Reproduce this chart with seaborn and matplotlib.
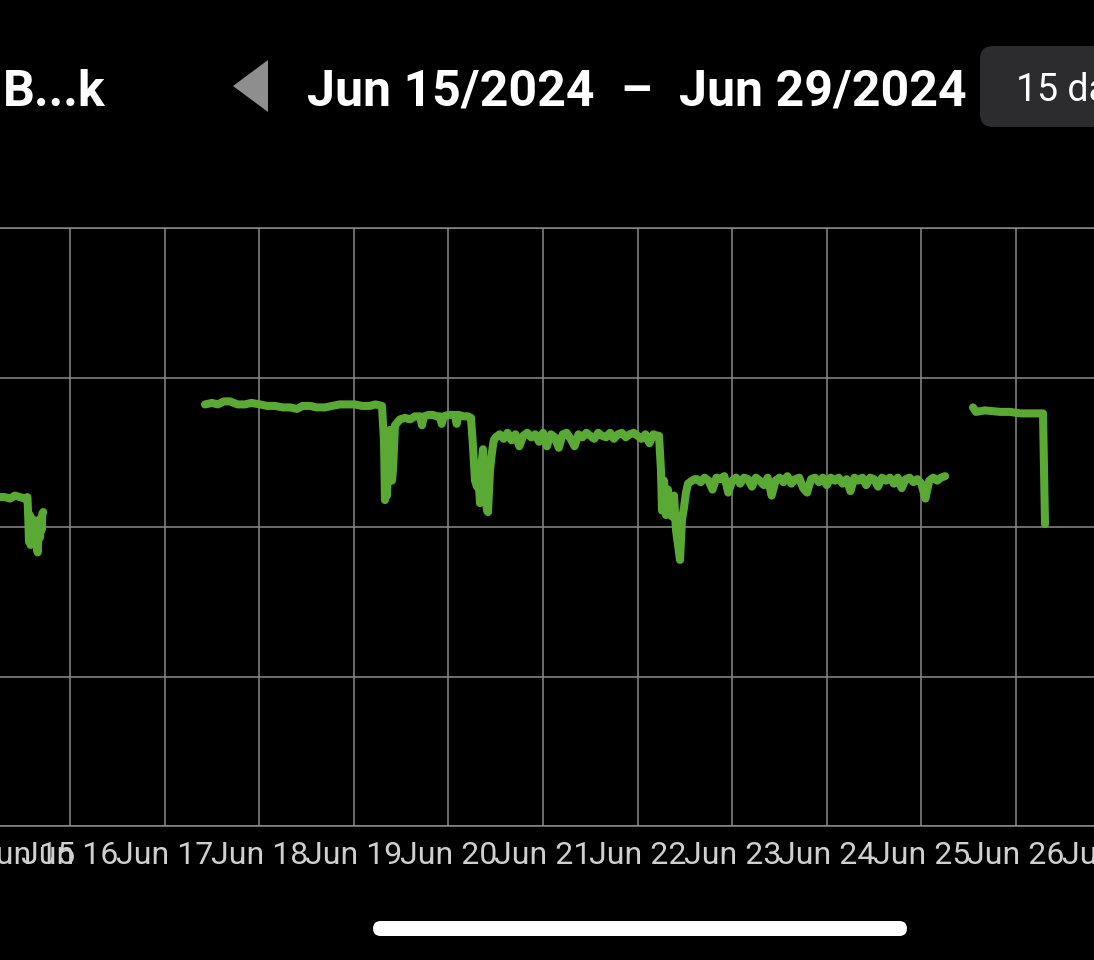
import numpy as np
import pandas as pd
import matplotlib
matplotlib.use("Agg")
import matplotlib.pyplot as plt
from matplotlib.patches import FancyBboxPatch, Polygon
import seaborn as sns

# ---------------- data (hours since Jun 15 00:00, value) ----------------
seg1_hours = [3.0, 6.2, 7.5, 8.8, 10.0, 11.3, 12.5, 13.2, 13.4, 13.6, 13.8, 14.0, 14.2,
              14.4, 14.6, 14.8, 15.0, 15.2, 15.4, 15.6, 15.8, 16.0, 16.2, 16.4, 16.6, 16.8,
              17.0, 17.2]
seg1_values = [2.20, 2.20, 2.20, 2.19, 2.21, 2.20, 2.19, 2.20, 2.07, 1.90, 2.08, 1.88, 2.06,
               1.91, 2.05, 1.89, 2.02, 1.90, 2.04, 1.86, 1.83, 1.97, 2.05, 1.93, 2.06, 1.98,
               2.09, 2.10]

seg2_hours = [58.25, 60.0, 61.5, 63.0, 64.6, 66.5, 68.4, 70.0, 72.2, 74.0, 76.0, 78.0, 79.8,
              81.6, 83.0, 84.9, 86.5, 88.7, 90.5, 92.5, 94.5, 96.3, 98.0, 100.1, 101.5, 103.15,
              103.66, 103.91, 104.17, 104.42, 104.93, 105.18, 105.69, 105.94, 106.45, 107.72,
              109.0, 110.26, 111.5, 112.80, 113.3, 113.8, 115.0, 116.09, 117.0, 117.87, 118.3,
              118.8, 120.0, 121.67, 122.1, 122.6, 123.8, 124.97, 125.73, 126.24, 126.75,
              127.25, 127.51, 128.02, 128.52, 128.78, 129.29, 129.79, 130.05, 130.55, 131.06,
              131.5,
              132, 133, 134, 135, 136, 137, 138, 139, 140, 141, 142, 143, 144, 145, 146, 147,
              148, 149, 150, 151, 152, 153, 154, 155, 156, 157, 158, 159, 160, 161, 162, 163,
              164, 165, 166, 167, 168, 169, 170, 171, 172, 173,
              173.43, 173.93, 174.19, 174.70, 175.20, 175.71, 176.22, 176.73, 177.24, 177.74,
              178.25, 178.76, 179.26, 179.77, 180.28, 180.79, 181.80, 182.5,
              183, 184, 185, 186, 187, 188, 189, 190, 191, 192, 193, 194, 195, 196, 197, 198,
              199, 200, 201, 202, 203, 204, 205, 206, 207, 208, 209, 210, 211, 212, 213, 214,
              215, 216, 217, 218, 219, 220, 221, 222, 223, 224, 225, 226, 227, 228, 229, 230,
              231, 232, 233, 234, 235, 236, 237, 238, 239, 240, 241, 242, 243, 244, 245, 246]
seg2_values = [2.82, 2.83, 2.82, 2.84, 2.84, 2.82, 2.82, 2.83, 2.82, 2.81, 2.81, 2.80, 2.80,
               2.79, 2.81, 2.81, 2.80, 2.80, 2.81, 2.82, 2.82, 2.82, 2.81, 2.81, 2.82, 2.81,
               2.58, 2.18, 2.45, 2.21, 2.58, 2.65, 2.31, 2.38, 2.68, 2.72,
               2.73, 2.72, 2.74, 2.74, 2.68, 2.74, 2.75, 2.75, 2.74, 2.74, 2.69,
               2.74, 2.75, 2.75, 2.69, 2.75, 2.74, 2.74, 2.73, 2.54, 2.31,
               2.27, 2.38, 2.16, 2.45, 2.52, 2.25, 2.11, 2.10, 2.38, 2.50,
               2.58,
               2.60, 2.62, 2.59, 2.63, 2.58, 2.62, 2.54, 2.61, 2.63, 2.60, 2.62, 2.57, 2.63, 2.54,
               2.62, 2.60, 2.53, 2.62, 2.63, 2.59, 2.54, 2.62, 2.60, 2.63, 2.61, 2.59, 2.63, 2.61,
               2.60, 2.63, 2.59, 2.62, 2.63, 2.60, 2.62, 2.63, 2.61, 2.59, 2.62, 2.56, 2.62, 2.61,
               2.61, 2.38, 2.11, 2.31, 2.08, 2.25, 2.09, 2.07, 2.21, 1.98,
               1.88, 1.78, 2.05, 2.13, 2.23, 2.29, 2.31, 2.32,
               2.32, 2.30, 2.33, 2.31, 2.25, 2.33, 2.32, 2.34, 2.23, 2.31, 2.33, 2.29, 2.33, 2.32,
               2.27, 2.33, 2.31, 2.28, 2.33, 2.21, 2.31, 2.33, 2.30, 2.34, 2.29, 2.32, 2.33, 2.26,
               2.23, 2.32, 2.33, 2.30, 2.33, 2.28, 2.33, 2.31, 2.33, 2.29, 2.32, 2.24, 2.33, 2.31,
               2.33, 2.28, 2.33, 2.32, 2.27, 2.33, 2.31, 2.33, 2.29, 2.33, 2.26, 2.32, 2.33, 2.30,
               2.32, 2.29, 2.19, 2.31, 2.33, 2.31, 2.33, 2.34]

seg3_hours = [253.09, 253.85, 256.13, 259.94, 262.48, 265.02, 268.82, 270.85, 271.36]
seg3_values = [2.80, 2.77, 2.78, 2.77, 2.77, 2.76, 2.76, 2.76, 2.02]

tick_days = [16, 17, 18, 19, 20, 21, 22, 23, 24, 25, 26, 27]
tick_labels = ["Jun 16", "Jun 17", "Jun 18", "Jun 19", "Jun 20", "Jun 21",
               "Jun 22", "Jun 23", "Jun 24", "Jun 25", "Jun 26", "Jun 27"]
first_label = "Jun 15"
first_label_hour = 13.1
y_grid = [0, 1, 2, 3, 4]

title_left = "B...k"
range_start = "Jun 15/2024"
range_end = "Jun 29/2024"
range_button = "15 days"

# ---------------- build frame ----------------
start = pd.Timestamp("2024-06-15")
frames = []
for i, (hs, vs) in enumerate([(seg1_hours, seg1_values),
                              (seg2_hours, seg2_values),
                              (seg3_hours, seg3_values)]):
    frames.append(pd.DataFrame({
        "time": start + pd.to_timedelta(hs, unit="h"),
        "value": vs,
        "segment": i,
    }))
df = pd.concat(frames, ignore_index=True)

GREEN = "#5aa935"
GRID = "#8a8a8a"
TICKC = "#cfcfcf"
W, H = 1094, 960
EXT = 1.06  # axes run past the right edge of the screen

sns.set_theme(style="dark")
plt.rcParams["font.family"] = ["Roboto", "DejaVu Sans"]

fig = plt.figure(figsize=(W / 100, H / 100), dpi=100, facecolor="black")
ax = fig.add_axes([0, (H - 826) / H, EXT, (826 - 228) / H])
ax.set_facecolor("black")

sns.lineplot(data=df, x="time", y="value", units="segment", estimator=None,
             color=GREEN, linewidth=5.8, ax=ax, legend=False,
             solid_capstyle="round", solid_joinstyle="round", zorder=3)

ax.set_yticks(y_grid)
ax.set_yticklabels([])
ax.set_xticks([start + pd.Timedelta(days=d - 15) for d in tick_days])
ax.set_xticklabels(tick_labels)
ax.set_xticks([start + pd.Timedelta(hours=first_label_hour)], minor=True)
ax.set_xticklabels([first_label], minor=True)
ax.set_xlim(start + pd.Timedelta(hours=6.24),
            start + pd.Timedelta(hours=6.24 + 0.25370 * W * EXT))
ax.set_ylim(y_grid[0], y_grid[-1])
ax.tick_params(axis="x", which="both", length=0, pad=11, labelsize=23, labelcolor=TICKC)
ax.tick_params(axis="y", length=0)
ax.set_xlabel("")
ax.set_ylabel("")
ax.grid(True, which="major", color=GRID, linewidth=1.1)
ax.grid(False, which="minor")
for s in ["left", "right"]:
    ax.spines[s].set_visible(False)
for s in ["top", "bottom"]:
    ax.spines[s].set_visible(True)
    ax.spines[s].set_color(GRID)
    ax.spines[s].set_linewidth(1.1)

# ---------------- header ----------------
def fx(x):
    return x / W

def fy(y):
    return 1 - y / H

hfont = dict(family=["Roboto", "DejaVu Sans"], fontsize=36, fontweight="bold", color="white")
fig.text(fx(3), fy(106), title_left, ha="left", va="baseline", **hfont)
fig.text(fx(307), fy(106), range_start, ha="left", va="baseline", **hfont)
fig.text(fx(636), fy(106), "–", ha="center", va="baseline", **hfont)
fig.text(fx(679), fy(106), range_end, ha="left", va="baseline", **hfont)

tri = Polygon([[fx(268), fy(60)], [fx(268), fy(112)], [fx(233), fy(86)]],
              closed=True, transform=fig.transFigure, facecolor="#8e8e8e", edgecolor="none")
fig.patches.append(tri)

box = FancyBboxPatch((fx(980), fy(127)), fx(1140) - fx(980), fy(46) - fy(127),
                     boxstyle="round,pad=0,rounding_size=0.012",
                     transform=fig.transFigure, facecolor="#2c2c2e", edgecolor="none",
                     mutation_aspect=W / H)
fig.patches.append(box)
fig.text(fx(1016), fy(101), range_button, ha="left", va="baseline",
         family=["Roboto", "DejaVu Sans"], fontsize=27, color="white")

bar = FancyBboxPatch((fx(373), fy(936)), fx(907) - fx(373), fy(921) - fy(936),
                     boxstyle="round,pad=0,rounding_size=0.007",
                     transform=fig.transFigure, facecolor="white", edgecolor="none",
                     mutation_aspect=W / H)
fig.patches.append(bar)

fig.savefig("out.png", dpi=100, facecolor="black")
